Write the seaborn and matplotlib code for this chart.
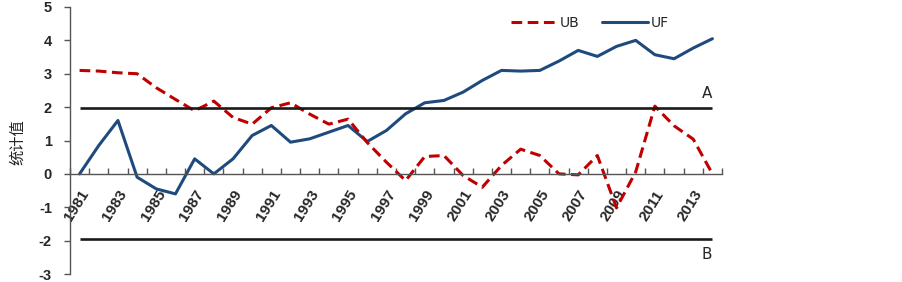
import numpy as np
import pandas as pd
import matplotlib
matplotlib.use("Agg")
import matplotlib.pyplot as plt
from matplotlib.ticker import MultipleLocator, FixedLocator
import seaborn as sns

years = list(range(1981, 2015))
uf = [0, 0.85, 1.6, -0.1, -0.45, -0.6, 0.45, 0, 0.45, 1.15, 1.45, 0.95,
      1.05, 1.25, 1.45, 0.97, 1.3, 1.8, 2.13, 2.2, 2.45, 2.8, 3.1, 3.08,
      3.1, 3.38, 3.7, 3.52, 3.82, 4.0, 3.57, 3.45, 3.77, 4.05]
ub = [3.1, 3.08, 3.03, 3.0, 2.58, 2.23, 1.89, 2.18, 1.69, 1.49, 1.98, 2.13,
      1.79, 1.49, 1.64, 0.94, 0.35, -0.2, 0.52, 0.55, -0.05, -0.4, 0.25, 0.74,
      0.55, 0.0, -0.03, 0.55, -1.02, 0.06, 2.03, 1.44, 1.04, 0.0]
crit = 1.96
label_years = list(range(1981, 2014, 2))

df = pd.DataFrame({"year": years, "UF": uf, "UB": ub})

sns.set_style("white")
plt.rcParams["font.family"] = ["Liberation Sans", "DejaVu Sans", "Noto Sans CJK SC"]
plt.rcParams["axes.unicode_minus"] = False

fig = plt.figure(figsize=(9.03, 2.82), dpi=100)
ax = fig.add_axes([70 / 903, 8 / 282, 652 / 903, 267 / 282])

sns.lineplot(data=df, x="year", y="UF", color="#1f4a7e", linewidth=2.2, ax=ax, label="UF")
sns.lineplot(data=df, x="year", y="UB", color="#c00000", linewidth=2.2, ax=ax, label="UB")
ax.lines[1].set_dashes([3.5, 1.8])

ax.hlines([crit, -crit], years[0], years[-1], color="#1a1a1a", linewidth=1.9)
ax.text(years[-1], crit + 0.22, "A", ha="right", va="bottom", fontsize=11,
        family="DejaVu Sans")
ax.text(years[-1], -crit - 0.22, "B", ha="right", va="top", fontsize=11,
        family="DejaVu Sans")

ax.set_xlim(years[0] - 0.5, years[-1] + 0.5)
ax.set_ylim(-3, 5)
ax.yaxis.set_major_locator(MultipleLocator(1))

ax.spines["top"].set_visible(False)
ax.spines["right"].set_visible(False)
ax.spines["bottom"].set_position(("data", 0))
for s in ["left", "bottom"]:
    ax.spines[s].set_color("#555555")
    ax.spines[s].set_linewidth(1.0)

ax.xaxis.set_major_locator(FixedLocator(label_years))
ax.xaxis.set_minor_locator(FixedLocator(np.arange(years[0] - 0.5, years[-1] + 1.0, 1.0)))
ax.set_xticklabels([str(y) for y in label_years], rotation=58, ha="right",
                   rotation_mode="anchor", fontsize=11, fontweight="bold")
ax.tick_params(axis="x", which="major", length=0, pad=10)
ax.tick_params(axis="x", which="minor", direction="in", length=4, width=1, color="#555555", bottom=True)
ax.tick_params(axis="y", direction="out", length=4, width=1, color="#555555", left=True, labelsize=10.5, pad=9)
for t in ax.get_yticklabels():
    t.set_fontweight("bold")

ax.set_xlabel("")
ax.set_ylabel("")
fig.text(18 / 903, 1 - 142 / 282, "统计值", rotation=90, ha="center", va="center",
         fontsize=11, family=["Noto Sans CJK SC", "DejaVu Sans"])

h, l = ax.get_legend_handles_labels()
leg = ax.legend([h[1], h[0]], [l[1], l[0]], ncol=2, frameon=False, loc="center",
                bbox_to_anchor=(590 / 903, 1 - 23 / 282), bbox_transform=fig.transFigure,
                handlelength=3.3, handletextpad=0.25, columnspacing=1.6,
                prop={"family": "DejaVu Sans", "size": 10})

fig.savefig("out.png", dpi=100)
